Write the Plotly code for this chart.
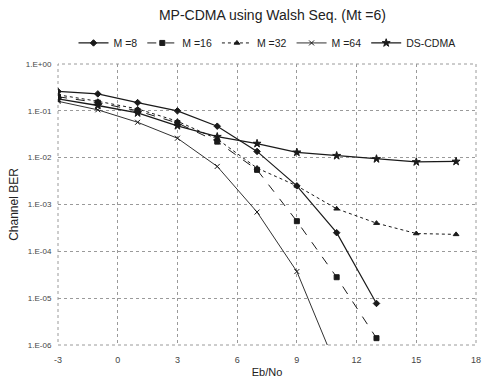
import plotly.graph_objects as go

x_m8 = [-3, -1, 1, 3, 5, 7, 9, 11, 13]
ber_m8 = [0.26, 0.23, 0.15, 0.10, 0.047, 0.0136, 0.0025, 2.5e-4, 7.7e-6]

x_m16 = [-3, -1, 1, 3, 5, 7, 9, 11, 13]
ber_m16 = [0.20, 0.15, 0.10, 0.055, 0.022, 5.5e-3, 4.4e-4, 2.8e-5, 1.4e-6]

x_m32 = [-3, -1, 1, 3, 5, 7, 9, 11, 13, 15, 17]
ber_m32 = [0.22, 0.16, 0.11, 0.06, 0.025, 6.0e-3, 2.5e-3, 8.1e-4, 4.0e-4, 2.4e-4, 2.3e-4]

x_m64 = [-3, -1, 1, 3, 5, 7, 9, 11]
ber_m64 = [0.16, 0.105, 0.057, 0.026, 6.5e-3, 6.9e-4, 3.7e-5, 3.3e-7]

x_ds = [-3, -1, 1, 3, 5, 7, 9, 11, 13, 15, 17]
ber_ds = [0.18, 0.13, 0.09, 0.048, 0.028, 0.020, 0.013, 0.011, 0.0094, 0.0081, 0.0083]

series_names = ["M =8", "M =16", "M =32", "M =64", "DS-CDMA"]
x_ticks = [-3, 0, 3, 6, 9, 12, 15, 18]
y_tickvals = [1e0, 1e-1, 1e-2, 1e-3, 1e-4, 1e-5, 1e-6]
y_ticktext = ["1.E+00", "1.E-01", "1.E-02", "1.E-03", "1.E-04", "1.E-05", "1.E-06"]

styles = [
    dict(symbol="diamond", size=5, dash="solid", width=1.2),
    dict(symbol="square", size=5, dash="dash", width=1.0),
    dict(symbol="triangle-up", size=5, dash="dot", width=1.0),
    dict(symbol="x-thin", size=5, dash="solid", width=0.9),
    dict(symbol="star", size=6, dash="solid", width=1.3),
]
data = [(x_m8, ber_m8), (x_m16, ber_m16), (x_m32, ber_m32), (x_m64, ber_m64), (x_ds, ber_ds)]

fig = go.Figure()
for name, (xs, ys), st in zip(series_names, data, styles):
    fig.add_trace(go.Scatter(
        x=xs, y=ys, name=name, mode="lines+markers",
        line=dict(color="#1a1a1a", width=st["width"], dash=st["dash"]),
        marker=dict(symbol=st["symbol"], size=st["size"], color="#1a1a1a",
                    line=dict(color="#1a1a1a", width=1)),
    ))

grid_col = "#9a9a9a"
fig.add_shape(type="rect", xref="paper", yref="paper", x0=0, x1=1, y0=0, y1=1,
              line=dict(color=grid_col, width=1, dash="dot"), layer="below")

fig.update_layout(
    width=484, height=385,
    margin=dict(l=58, r=3, t=64, b=40),
    paper_bgcolor="white", plot_bgcolor="white",
    font=dict(family="Liberation Sans, Arial, sans-serif", color="#222222"),
    title=dict(text="MP-CDMA using Walsh Seq. (Mt =6)", x=0.563, xanchor="center",
               y=0.96, yanchor="middle", font=dict(size=14, color="#222222")),
    legend=dict(orientation="h", x=0.5, xanchor="center", y=1.075, yanchor="middle",
                font=dict(size=10.5), itemwidth=30, tracegroupgap=0,
                bgcolor="rgba(0,0,0,0)"),
    showlegend=True,
)
fig.update_xaxes(
    range=[-3, 18], tickvals=x_ticks, ticktext=[str(v) for v in x_ticks],
    showgrid=True, gridcolor=grid_col, griddash="dot", gridwidth=1,
    zeroline=False, showline=False, ticks="outside", ticklen=6, tickcolor="white",
    ticklabeloverflow="allow",
    tickfont=dict(size=9, color="#444444"),
    title=dict(text="Eb/No", font=dict(size=11, color="#222222"), standoff=4),
)
fig.update_yaxes(
    type="log", range=[-6, 0], tickvals=y_tickvals, ticktext=y_ticktext,
    showgrid=True, gridcolor=grid_col, griddash="dot", gridwidth=1,
    zeroline=False, showline=False, ticks="outside", ticklen=4, tickcolor="white",
    tickfont=dict(size=8, color="#444444"),
    title=dict(text="Channel BER", font=dict(size=12, color="#222222"), standoff=4),
)

fig.write_html("out.html")
